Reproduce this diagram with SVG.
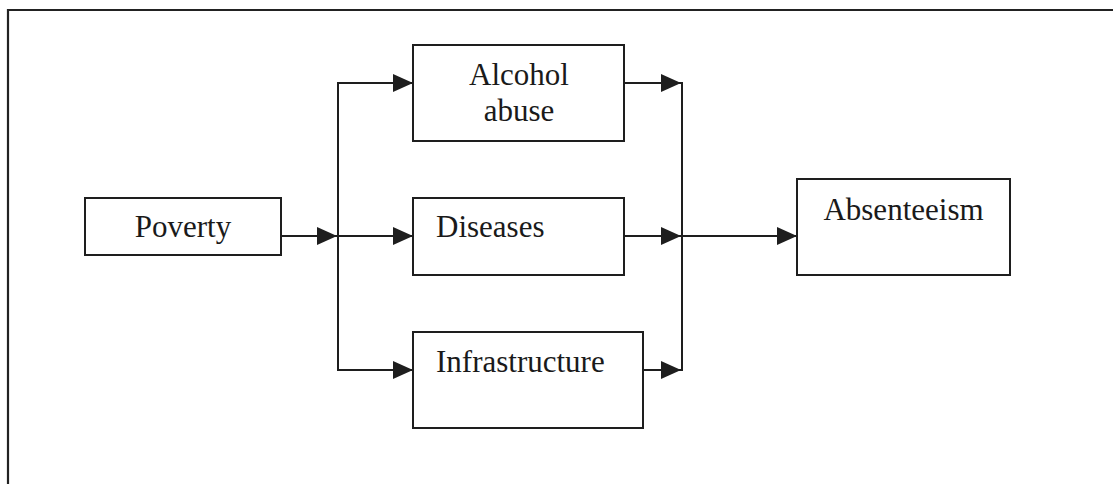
<svg xmlns="http://www.w3.org/2000/svg" width="1113" height="484" viewBox="0 0 1113 484">
  <style>
    .box { fill: #ffffff; stroke: #1e1e1e; stroke-width: 2; }
    .lbl { font-family: "Liberation Serif", "Times New Roman", serif; font-size: 31px; fill: #1a1a1a; }
    .mid { text-anchor: middle; }
    .wire { fill: none; stroke: #1e1e1e; stroke-width: 2; }
    .frame { fill: none; stroke: #222222; stroke-width: 2.2; }
  </style>
  <defs>
    <marker id="arrow" markerUnits="userSpaceOnUse" markerWidth="21" markerHeight="18" refX="20" refY="9" orient="auto">
      <path d="M0,0 L20,9 L0,18 z" fill="#1e1e1e"/>
    </marker>
  </defs>

  <rect width="1113" height="484" fill="#ffffff"/>

  <!-- page frame: top and left rules -->
  <path class="frame" d="M8,490 L8,10 L1120,10"/>

  <!-- connectors -->
  <g id="connectors">
    <line class="wire" x1="281" y1="236" x2="337" y2="236" marker-end="url(#arrow)"/>
    <line class="wire" x1="338" y1="82" x2="338" y2="371"/>
    <line class="wire" x1="338" y1="83" x2="413" y2="83" marker-end="url(#arrow)"/>
    <line class="wire" x1="338" y1="236" x2="413" y2="236" marker-end="url(#arrow)"/>
    <line class="wire" x1="338" y1="370" x2="413" y2="370" marker-end="url(#arrow)"/>
    <line class="wire" x1="624" y1="83" x2="681" y2="83" marker-end="url(#arrow)"/>
    <line class="wire" x1="624" y1="236" x2="681" y2="236" marker-end="url(#arrow)"/>
    <line class="wire" x1="643" y1="370" x2="681" y2="370" marker-end="url(#arrow)"/>
    <line class="wire" x1="682" y1="82" x2="682" y2="371"/>
    <line class="wire" x1="682" y1="236" x2="797" y2="236" marker-end="url(#arrow)"/>
  </g>

  <g id="poverty">
    <rect class="box" x="85" y="198" width="196" height="57"/>
    <text class="lbl mid" x="183" y="237">Poverty</text>
  </g>

  <g id="alcohol-abuse">
    <rect class="box" x="413" y="45" width="211" height="96"/>
    <text class="lbl mid" x="519" y="85">Alcohol</text>
    <text class="lbl mid" x="519" y="121">abuse</text>
  </g>

  <g id="diseases">
    <rect class="box" x="413" y="198" width="211" height="77"/>
    <text class="lbl" x="436" y="237">Diseases</text>
  </g>

  <g id="infrastructure">
    <rect class="box" x="413" y="332" width="230" height="96"/>
    <text class="lbl" x="436" y="372">Infrastructure</text>
  </g>

  <g id="absenteeism">
    <rect class="box" x="797" y="179" width="213" height="96"/>
    <text class="lbl mid" x="903.5" y="220">Absenteeism</text>
  </g>
</svg>
